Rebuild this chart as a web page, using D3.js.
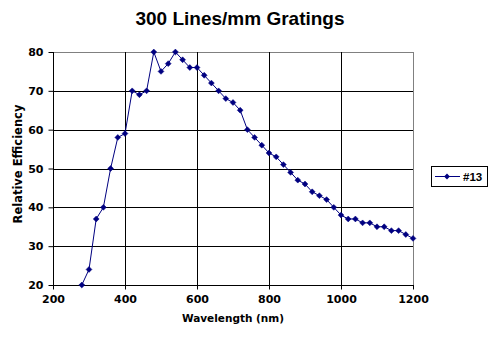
<!DOCTYPE html>
<html><head><meta charset="utf-8">
<script src="https://cdn.jsdelivr.net/npm/d3@7"></script>
<style>
body{margin:0;background:#fff;}
</style></head>
<body>
<svg id="chart" width="495" height="341"></svg>
<script>
const wavelengths = [280,300,320,340,360,380,400,420,440,460,480,500,520,540,560,580,600,620,640,660,680,700,720,740,760,780,800,820,840,860,880,900,920,940,960,980,1000,1020,1040,1060,1080,1100,1120,1140,1160,1180,1200];
const efficiency = [20,24,37,40,50,58,59,70,69,70,80,75,77,80,78,76,76,74,72,70,68,67,65,60,58,56,54,53,51,49,47,46,44,43,42,40,38,37,37,36,36,35,35,34,34,33,32];
const xTicks = [200,400,600,800,1000,1200];
const yTicks = [20,30,40,50,60,70,80];
const seriesName = "#13";
const title = "300 Lines/mm Gratings";
const xTitle = "Wavelength (nm)";
const yTitle = "Relative Efficiency";

const svg = d3.select("#chart");
const L = 53, R = 413, T = 52, B = 285;
const x = d3.scaleLinear().domain([200,1200]).range([L,R]);
const y = d3.scaleLinear().domain([20,80]).range([B,T]);
const color = "#000080";
const labelFont = "'DejaVu Sans', sans-serif";
const titleFont = "'Liberation Sans', Arial, sans-serif";

// plot border
svg.append("rect").attr("x",L+0.5).attr("y",T+0.5).attr("width",R-L).attr("height",B-T)
  .attr("fill","none").attr("stroke","#808080").attr("stroke-width",1);

// gridlines
svg.append("g").selectAll("line").data(yTicks.filter(d=>d>20 && d<80)).join("line")
  .attr("x1",L).attr("x2",R).attr("y1",d=>Math.round(y(d))+0.5).attr("y2",d=>Math.round(y(d))+0.5)
  .attr("stroke","#000").attr("stroke-width",1);
svg.append("g").selectAll("line").data(xTicks.filter(d=>d>200 && d<1200)).join("line")
  .attr("y1",T).attr("y2",B).attr("x1",d=>Math.round(x(d))+0.5).attr("x2",d=>Math.round(x(d))+0.5)
  .attr("stroke","#000").attr("stroke-width",1);

// axes
const yAxis = d3.axisLeft(y).tickValues(yTicks).tickFormat(d3.format("d")).tickSize(5).tickPadding(5);
const gy = svg.append("g").attr("transform",`translate(${L+0.5},0)`).call(yAxis);
const xAxis = d3.axisBottom(x).tickValues(xTicks).tickFormat(d3.format("d")).tickSize(4).tickPadding(6);
const gx = svg.append("g").attr("transform",`translate(0,${B+0.5})`).call(xAxis);
[gx,gy].forEach(g=>{
  g.attr("font-family",null).attr("font-size",null);
  g.select(".domain").attr("stroke","#000");
  g.selectAll(".tick line").attr("stroke","#000");
  g.selectAll("text").style("font-family",labelFont)
    .style("font-size","11px").style("font-weight","bold").attr("fill","#000");
});
gx.select(".domain").attr("d",`M${L},0H${R+1}`);
gy.select(".domain").attr("d",`M0,${T}V${B+1}`);

// line
const pts = wavelengths.map((w,i)=>[w,efficiency[i]]);
svg.append("path").datum(pts)
  .attr("fill","none").attr("stroke",color).attr("stroke-width",1)
  .attr("d",d3.line().x(d=>x(d[0])).y(d=>y(d[1])));

const diamond = d3.symbol().type(d3.symbolDiamond2).size(22);
svg.append("g").selectAll("path").data(pts).join("path")
  .attr("d",diamond).attr("transform",d=>`translate(${x(d[0])},${y(d[1])})`)
  .attr("fill",color).attr("stroke",color).attr("stroke-width",0.5);

// titles
svg.append("text").attr("x",240).attr("y",25).attr("text-anchor","middle")
  .style("font-family",titleFont).style("font-size","19px").style("font-weight","bold").text(title);
svg.append("text").attr("x",233).attr("y",322).attr("text-anchor","middle")
  .style("font-family",labelFont).style("font-size","10.5px").style("font-weight","bold").text(xTitle);
svg.append("text").attr("transform",`translate(22,164) rotate(-90)`).attr("text-anchor","middle")
  .style("font-family",labelFont).style("font-size","11.5px").style("font-weight","bold").text(yTitle);

// legend
const lg = svg.append("g");
lg.append("rect").attr("x",431.5).attr("y",166.5).attr("width",56).attr("height",20)
  .attr("fill","#fff").attr("stroke","#000");
lg.append("line").attr("x1",435).attr("x2",460).attr("y1",176.5).attr("y2",176.5).attr("stroke",color);
lg.append("path").attr("d",diamond).attr("transform","translate(447,176.5)").attr("fill",color);
lg.append("text").attr("x",463).attr("y",181)
  .style("font-family",titleFont).style("font-size","11.5px").style("font-weight","bold").text(seriesName);
</script>
</body></html>
